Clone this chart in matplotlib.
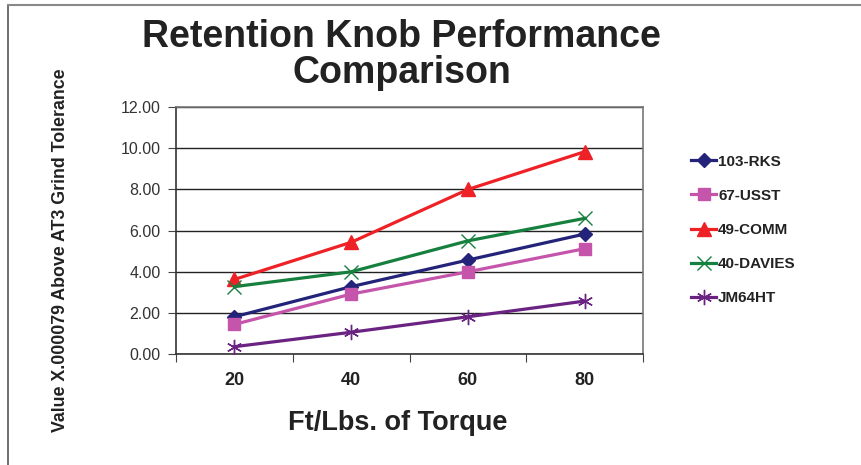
import numpy as np
import matplotlib.pyplot as plt
from matplotlib.lines import Line2D

# 数据
torque = ['20', '40', '60', '80']
rks = [1.82, 3.28, 4.57, 5.83]
usst = [1.45, 2.92, 4.00, 5.12]
comm = [3.63, 5.43, 7.99, 9.82]
davies = [3.28, 4.00, 5.50, 6.59]
jm64ht = [0.37, 1.07, 1.82, 2.58]

names = ['103-RKS', '67-USST', '49-COMM', '40-DAVIES', 'JM64HT']
colors = ['#23237a', '#c455aa', '#ee2226', '#16803f', '#6a2382']
markers = ['D', 's', '^', 'x', (6, 2, 0)]
msizes = [7, 9, 9.5, 10, 11]

plt.rcParams['font.family'] = ['Liberation Sans', 'DejaVu Sans']

fig = plt.figure(figsize=(8.62, 4.65), dpi=100)
ax = fig.add_axes([0.2042, 0.238, 0.5418, 0.5325])

x = np.arange(len(torque))
for vals, name, c, m, ms in zip([rks, usst, comm, davies, jm64ht], names, colors, markers, msizes):
    ax.plot(x, vals, color=c, lw=2.3, marker=m, markersize=ms, markeredgewidth=1.0,
            markerfacecolor=c, markeredgecolor=c, label=name, zorder=3)

ax.set_ylim(0, 12)
ax.set_yticks(np.arange(0, 12.01, 2))
ax.set_yticklabels(['%.2f' % v for v in np.arange(0, 12.01, 2)], fontsize=11.5, color='#333333')
ax.yaxis.grid(True, color='#222222', lw=1.0)
ax.set_axisbelow(True)

# 类别坐标 刻度在类别之间
ax.set_xlim(-0.5, 3.5)
ax.set_xticks(np.arange(-0.5, 3.6, 1))
ax.set_xticklabels([])
ax.set_xticks(x, minor=True)
ax.set_xticklabels(torque, minor=True, fontsize=13, fontweight='bold', color='#222222')
ax.tick_params(axis='x', which='minor', length=0, pad=13)
ax.tick_params(axis='both', which='major', direction='out', length=6, color='#444444')
ax.tick_params(axis='y', pad=5)
for s in ax.spines.values():
    s.set_color('#777777')
    s.set_linewidth(1.2)
ax.spines['left'].set_color('#333333')
ax.spines['bottom'].set_color('#333333')

ax.set_xlabel('Ft/Lbs. of Torque', fontsize=19.5, fontweight='bold', color='#222222')
ax.xaxis.set_label_coords(0.475, -0.224)
fig.text(0.07, 0.462, 'Value X.000079 Above AT3 Grind Tolerance', rotation=90,
         ha='center', va='center', fontsize=12.8, fontweight='bold', color='#222222')

fig.text(0.466, 0.899, 'Retention Knob Performance', ha='center', va='baseline',
         fontsize=27, fontweight='bold', color='#222222')
fig.text(0.466, 0.8215, 'Comparison', ha='center', va='baseline',
         fontsize=27, fontweight='bold', color='#222222')

leg = ax.legend(loc='upper left', bbox_to_anchor=(0.786, 0.697), bbox_transform=fig.transFigure,
                frameon=False, handlelength=1.6, handletextpad=0.15, labelspacing=1.32,
                prop={'size': 11, 'weight': 'bold'})
for t in leg.get_texts():
    t.set_color('#222222')

# 外框线
fig.add_artist(Line2D([0.0093, 0.0093], [0, 0.99], transform=fig.transFigure, color='#555555', lw=1.2))
fig.add_artist(Line2D([0.0093, 1.0], [0.99, 0.99], transform=fig.transFigure, color='#888888', lw=1.5))

fig.savefig('out.png', dpi=100)
